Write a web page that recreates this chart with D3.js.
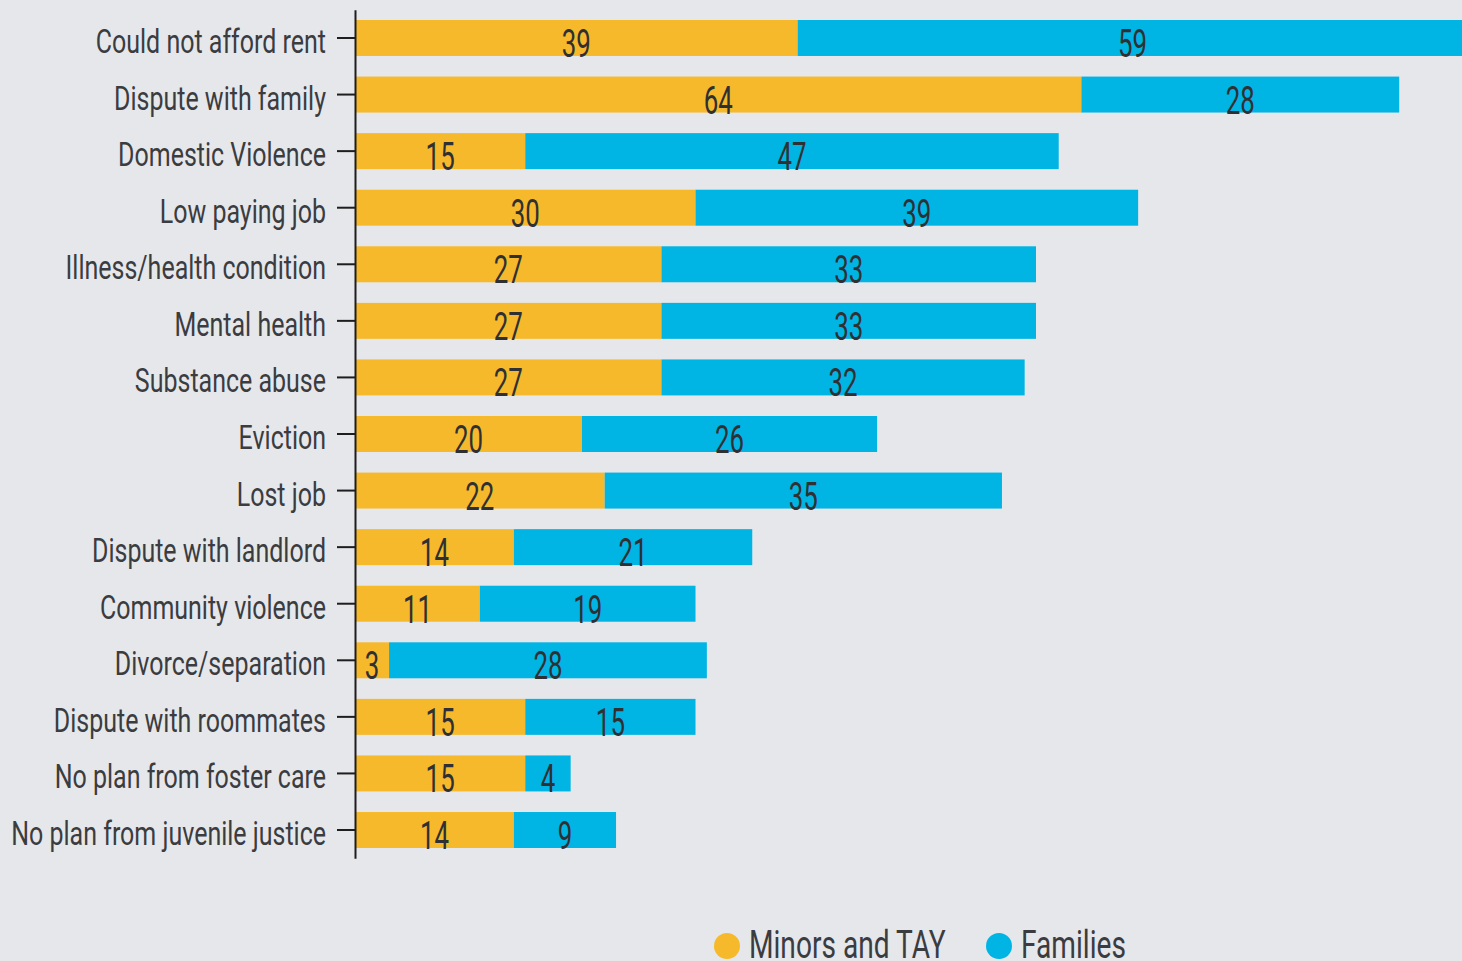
<!DOCTYPE html>
<html>
<head>
<meta charset="utf-8">
<script src="https://cdn.jsdelivr.net/npm/d3@7"></script>
<style>
  html, body { margin: 0; padding: 0; background: #e6e7eb; }
  svg { display: block; }
</style>
</head>
<body>
<svg id="chart" width="1462" height="961"></svg>
<script>
// Causes of homelessness — two groups stacked
const categories = [
  "Could not afford rent", "Dispute with family", "Domestic Violence",
  "Low paying job", "Illness/health condition", "Mental health",
  "Substance abuse", "Eviction", "Lost job", "Dispute with landlord",
  "Community violence", "Divorce/separation", "Dispute with roommates",
  "No plan from foster care", "No plan from juvenile justice"
]
const minorsTay = [39, 64, 15, 30, 27, 27, 27, 20, 22, 14, 11, 3, 15, 15, 14]
const families  = [59, 28, 47, 39, 33, 33, 32, 26, 35, 21, 19, 28, 15, 4, 9]
const seriesNames = ["Minors and TAY", "Families"]
const seriesColors = ["#f6b92b", "#00b4e4"]

const X0 = 355
const FONT = "Roboto, 'DejaVu Sans', sans-serif"

const svg = d3.select('#chart')

const rows = categories.map((c, i) => ({ cat: c, vals: [minorsTay[i], families[i]] }))
const stack = d3.stack().keys([0, 1]).value((d, k) => d.vals[k])(rows)

const x = d3.scaleLinear().domain([0, 98]).range([X0, X0 + 98 * 11.35])
const y = d3.scaleBand().domain(categories).range([9.7, 858.3])
  .paddingInner(0.364).paddingOuter(0.182)

// Barres
stack.forEach((layer, k) => {
  svg.append('g').selectAll('rect')
    .data(layer).join('rect')
    .attr('x', d => x(d[0]))
    .attr('y', d => y(d.data.cat))
    .attr('width', d => x(d[1]) - x(d[0]))
    .attr('height', y.bandwidth())
    .attr('fill', seriesColors[k])
})

// Valeurs centrées dans chaque segment (police condensée, un peu basse)
stack.forEach((layer, k) => {
  svg.append('g').selectAll('text')
    .data(layer).join('text')
    .attr('transform', d => `translate(${(x(d[0]) + x(d[1])) / 2},${y(d.data.cat) + y.bandwidth() / 2 + 19}) scale(0.68,1)`)
    .attr('text-anchor', 'middle')
    .attr('font-family', FONT)
    .attr('font-size', 38)
    .attr('fill', '#2f3033')
    .text(d => d[1] - d[0])
})

// Axe Y
const axis = svg.append('g')
  .attr('transform', `translate(${X0},0)`)
  .call(d3.axisLeft(y).tickSize(18).tickSizeOuter(0).tickPadding(11))

axis.select('.domain').attr('stroke', '#1e1e1e').attr('stroke-width', 2)
axis.selectAll('.tick line').attr('stroke', '#1e1e1e').attr('stroke-width', 2)
axis.selectAll('.tick text')
  .attr('x', null)
  .attr('dy', null)
  .attr('transform', 'translate(-29,15) scale(0.735,1)')
  .attr('font-family', FONT)
  .attr('font-size', 34)
  .attr('fill', '#3b3c40')

// Légende
const legend = svg.append('g').attr('transform', 'translate(0,946)')
const legendX = [727, 999]
seriesNames.forEach((name, k) => {
  const g = legend.append('g').attr('transform', `translate(${legendX[k]},0)`)
  g.append('circle').attr('r', 13).attr('fill', seriesColors[k])
  g.append('text')
    .attr('transform', 'translate(22,12) scale(0.74,1)')
    .attr('font-family', FONT)
    .attr('font-size', 38)
    .attr('fill', '#3b3c40')
    .text(name)
})
</script>
</body>
</html>
